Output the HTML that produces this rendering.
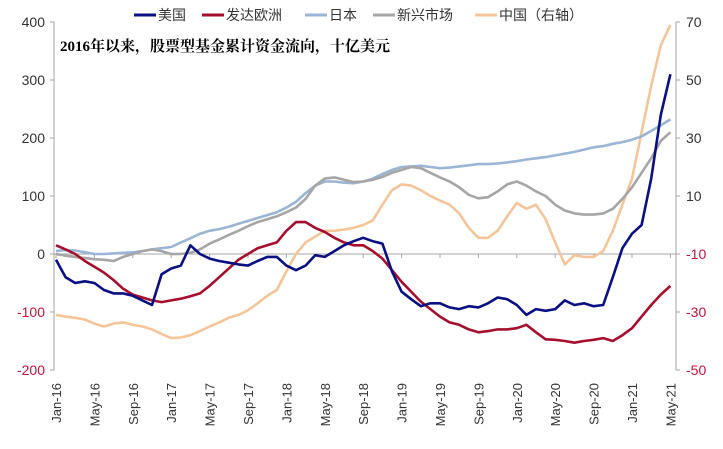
<!DOCTYPE html>
<html><head><meta charset="utf-8"><style>
body{margin:0;background:#fff;}
svg text{font-family:"Liberation Sans","Noto Sans CJK SC",sans-serif;}
</style></head><body>
<svg id="chart" width="723" height="444" xmlns="http://www.w3.org/2000/svg">
<g id="axes"></g><g id="series"></g>
<text x="60" y="51" font-size="15" font-weight="bold" fill="#000" style="font-family:'Liberation Serif','Noto Serif CJK SC',serif">2016年以来，股票型基金累计资金流向，十亿美元</text>
<g font-size="14" fill="#333">
<g><line x1="134" y1="15" x2="156" y2="15" stroke="#0a0f82" stroke-width="3"/><text x="158" y="20">美国</text></g>
<g><line x1="202" y1="15" x2="224" y2="15" stroke="#a50f2d" stroke-width="3"/><text x="226" y="20">发达欧洲</text></g>
<g><line x1="305" y1="15" x2="327" y2="15" stroke="#9bb5d4" stroke-width="3"/><text x="329" y="20">日本</text></g>
<g><line x1="373" y1="15" x2="395" y2="15" stroke="#a6a6a6" stroke-width="3"/><text x="397" y="20">新兴市场</text></g>
<g><line x1="475" y1="15" x2="497" y2="15" stroke="#f5c59a" stroke-width="3"/><text x="499" y="20">中国（右轴）</text></g>
</g>
</svg>
<script>
const leftTicks=[400,300,200,100,0,-100,-200];
const rightTicks=[70,50,30,10,-10,-30,-50];
const xLabels=["Jan-16","May-16","Sep-16","Jan-17","May-17","Sep-17","Jan-18","May-18","Sep-18","Jan-19","May-19","Sep-19","Jan-20","May-20","Sep-20","Jan-21","May-21"];
const usVals=[-10,-40,-50,-47,-50,-62,-68,-68,-72,-80,-88,-35,-25,-20,15,0,-8,-12,-15,-18,-20,-12,-5,-5,-20,-28,-20,-2,-5,5,15,22,28,22,18,-30,-65,-78,-90,-85,-85,-92,-95,-90,-92,-85,-75,-78,-88,-105,-95,-98,-95,-80,-88,-85,-90,-88,-40,10,35,50,130,240,310];
const euVals=[15,8,0,-12,-22,-32,-45,-60,-70,-75,-80,-83,-80,-77,-73,-68,-55,-40,-25,-10,0,10,15,20,40,55,55,45,38,28,20,15,15,5,-8,-28,-48,-65,-82,-95,-108,-118,-122,-130,-135,-133,-130,-130,-128,-122,-135,-147,-148,-150,-153,-150,-148,-145,-150,-140,-128,-108,-88,-70,-55];
const jpVals=[5,7,6,3,0,0,1,2,3,5,8,10,12,20,27,35,40,43,47,52,57,62,67,72,80,90,105,118,125,125,123,122,125,130,138,145,150,151,152,150,148,149,151,153,155,155,156,158,160,163,165,167,170,173,176,180,184,186,190,193,197,203,212,222,232];
const emVals=[0,-3,-5,-7,-9,-10,-12,-5,0,5,8,5,0,0,2,8,18,25,33,40,48,55,60,65,72,80,95,118,130,132,128,124,125,128,133,140,145,150,148,140,132,125,115,102,96,98,108,120,125,118,108,100,85,75,70,68,68,70,78,95,115,140,165,195,210];
const cnVals=[-31,-31.6,-32,-32.6,-34,-35,-34,-33.6,-34.4,-35,-36,-37.6,-39,-38.8,-38,-36.6,-35,-33.6,-32,-31,-29.4,-27,-24.4,-22.4,-16,-10,-6,-4,-2,-2,-1.6,-1,0,1.6,7,12,14,13.6,12,10,8.4,7,4,-1,-4.4,-4.4,-2,3,7.6,5.6,7,2,-6,-13.6,-10.4,-11,-11,-9,-2,7,16,32,48,62,69];

const NS="http://www.w3.org/2000/svg";
const X0=56,DX=9.6,YZ=254,PY=0.58;
const xS=m=>X0+m*DX;
const yL=v=>YZ-v*PY;
const yR=v=>YZ-(v+10)*PY*5;
function mk(tag,attrs,parent){const e=document.createElementNS(NS,tag);for(const k in attrs)e.setAttribute(k,attrs[k]);parent.appendChild(e);return e;}
const axes=document.getElementById('axes'),ser=document.getElementById('series');
let e;
e=mk('line',{x1:54,y1:yL(400),x2:54,y2:yL(-200),stroke:'#a6a6a6','stroke-width':1},axes);


e=mk('line',{x1:676,y1:yR(70),x2:676,y2:yR(-50),stroke:'#a6a6a6','stroke-width':1},axes);


e=mk('line',{x1:54,y1:yL(0),x2:676,y2:yL(0),stroke:'#a6a6a6','stroke-width':1},axes);


leftTicks.forEach(v=>{
 mk('line',{x1:50,y1:yL(v),x2:54,y2:yL(v),stroke:'#a6a6a6'},axes);
 e=mk('text',{x:45,y:yL(v)+5,'text-anchor':'end','font-size':14,fill:v<0?'#c0143c':'#333'},axes);
 e.textContent=v;
 
 
});
rightTicks.forEach(v=>{
 mk('line',{x1:676,y1:yR(v),x2:680,y2:yR(v),stroke:'#a6a6a6'},axes);
 e=mk('text',{x:686,y:yR(v)+5,'font-size':14,fill:v<0?'#c0143c':'#333'},axes);
 e.textContent=v;
 
 
});
xLabels.forEach((l,i)=>{
 const x=xS(i*4);
 mk('line',{x1:x,y1:YZ,x2:x,y2:YZ+4,stroke:'#a6a6a6'},axes);
 e=mk('text',{x:0,y:0,'text-anchor':'end','font-size':13,fill:'#333',transform:`translate(${x+5},383) rotate(-90)`},axes);
 e.textContent=l;
 
 
});
function line(vals,ys,color,name){
 const d=vals.map((v,i)=>(i?'L':'M')+xS(i).toFixed(1)+','+ys(v).toFixed(1)).join('');
 const p=mk('path',{d:d,fill:'none',stroke:color,'stroke-width':2.6,'stroke-linejoin':'round'},ser);
 
 
}
line(cnVals,yR,'#f5c59a','china-line');
line(jpVals,yL,'#9bb5d4','japan-line');
line(emVals,yL,'#a6a6a6','em-line');
line(euVals,yL,'#a50f2d','europe-line');
line(usVals,yL,'#0a0f82','us-line');
</script>
</body></html>
